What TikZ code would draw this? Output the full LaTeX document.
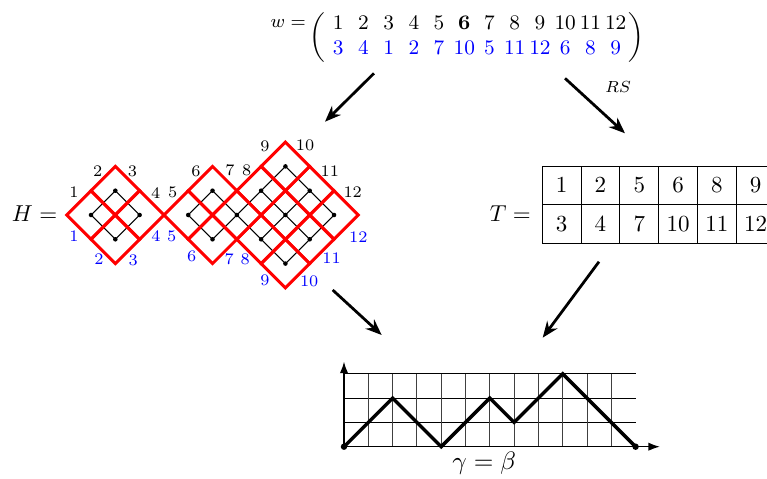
\documentclass[tikz,border=0pt]{standalone}
\usepackage{amsmath}
\usepackage{array}
\usepackage{xcolor}
\usetikzlibrary{arrows.meta,positioning}

\newcommand{\blu}[1]{\textcolor{blue}{#1}}

\begin{document}
\begin{tikzpicture}[x=0.371cm,y=0.371cm,
        heapred/.style={red,line width=1.3pt},
        dual/.style={black,line width=0.45pt},
        toplab/.style={font=\scriptsize,inner sep=0pt},
        botlab/.style={font=\scriptsize,inner sep=0pt,text=blue},
        maparrow/.style={line width=1.2pt,-{Stealth[length=7pt,width=5.5pt]}},
        axis/.style={line width=0.6pt,-{Latex[length=5pt,width=3.6pt]}}]
    \useasboundingbox (-14.156,-1.329) rectangle (17.407,18.383);

    % the word w
    \node (wmat) at (5.47,16.86) {\small\setlength{\arraycolsep}{0pt}\renewcommand{\arraystretch}{0.97}%
        $\left(\begin{array}{*{12}{w{c}{10.96pt}}}
        1&2&3&4&5&\mathbf{6}&7&8&9&10&11&12\\
        \blu{3}&\blu{4}&\blu{1}&\blu{2}&\blu{7}&\blu{10}&\blu{5}&\blu{11}&\blu{12}&\blu{6}&\blu{8}&\blu{9}
        \end{array}\right)$};
    \node[anchor=base east,inner sep=0pt,font=\footnotesize] (wlab) at (-1.55,17.24) {$w=$};

    % the heap H
    \node[anchor=base east,inner sep=0pt] (hlab) at (-11.78,9.26) {$H=$};
    \begin{scope}[cm={1,1,1,-1,(-11.41,9.535)}]
        \draw[dual] (0.5,0.5) rectangle (1.5,1.5);
        \foreach \cu/\cv in {0/0,1/0,0/1,1/1} {
            \fill (\cu+0.5,\cv+0.5) circle (0.7pt);
            \draw[heapred] (\cu,\cv) rectangle +(1,1);
        }
    \end{scope}
    \begin{scope}[cm={1,1,1,-1,(-7.41,9.535)}]
        \draw[dual] (0.5,0.5) -- (1.5,0.5) (0.5,1.5) -- (3.5,1.5) (1.5,2.5) -- (3.5,2.5) (1.5,3.5) -- (3.5,3.5)
            (0.5,0.5) -- (0.5,1.5) (1.5,0.5) -- (1.5,3.5) (2.5,1.5) -- (2.5,3.5) (3.5,1.5) -- (3.5,3.5);
        \foreach \cu/\cv in {0/0,1/0,0/1,1/1,2/1,3/1,1/2,2/2,3/2,1/3,2/3,3/3} {
            \fill (\cu+0.5,\cv+0.5) circle (0.7pt);
            \draw[heapred] (\cu,\cv) rectangle +(1,1);
        }
    \end{scope}
    % labels on the upper and lower boundary
    \foreach \lx/\ly/\lab in {-11.11/10.49/1,-10.14/11.32/2,-8.71/11.32/3,-7.75/10.44/4,
            -7.05/10.45/5,-6.09/11.32/6,-4.69/11.36/7,-4.00/11.36/8,-3.25/12.35/9,
            -1.60/12.42/10,-0.58/11.32/11,0.36/10.49/12}
        \node[toplab] (ht\lab) at (\lx,\ly) {\lab};
    \foreach \lx/\ly/\lab in {-11.11/8.67/1,-10.08/7.71/2,-8.67/7.68/3,-7.74/8.67/4,
            -7.09/8.67/5,-6.27/7.85/6,-4.72/7.71/7,-4.07/7.71/8,-3.25/6.86/9,
            -1.43/6.79/10,-0.51/7.75/11,0.59/8.62/12}
        \node[botlab] (hb\lab) at (\lx,\ly) {\lab};

    % the tableau T
    \node[anchor=base east,inner sep=0pt] (tlab) at (7.71,9.26) {$T=$};
    \begin{scope}[shift={(8.16,8.37)},x=0.5925cm,y=0.5877cm]
        \foreach \i in {0,...,6}
            \draw[line width=0.5pt] (\i,0) -- (\i,2);
        \foreach \j in {0,1,2}
            \draw[line width=0.5pt] (0,\j) -- (6,\j);
        \foreach \lab [count=\i] in {1,2,5,6,8,9}
            \node (ta\i) at (\i-0.5,1.5) {$\lab$};
        \foreach \lab [count=\i] in {3,4,7,10,11,12}
            \node (tb\i) at (\i-0.5,0.5) {$\lab$};
    \end{scope}

    % maps
    \coordinate (wl) at (1.235,15.366);
    \coordinate (hin) at (-0.782,13.374);
    \coordinate (wr) at (9.095,15.160);
    \coordinate (tin) at (11.564,12.897);
    \coordinate (hout) at (-0.465,6.449);
    \coordinate (pl) at (1.551,4.597);
    \coordinate (tout) at (10.494,7.613);
    \coordinate (pr) at (8.177,4.486);
    \draw[maparrow] (wl) -- (hin);
    \draw[maparrow] (wr) -- (tin);
    \draw[maparrow] (hout) -- (pl);
    \draw[maparrow] (tout) -- (pr);
    \node[font=\scriptsize] (rs) at (11.28,14.8) {$RS$};

    % the path gamma
    \foreach \y in {1,2,3}
        \draw[line width=0.4pt] (0,\y) -- (12,\y);
    \foreach \x in {1,...,11}
        \draw[line width=0.4pt,black!75] (\x,0) -- (\x,3);
    \draw[axis] (0,0) -- (13,0);
    \draw[axis] (0,0) -- (0,3.5);
    \draw[line width=1.5pt] (0,0) -- (2,2) -- (4,0) -- (6,2) -- (7,1) -- (9,3) -- (12,0);
    \fill (0,0) circle (1.4pt) (12,0) circle (1.4pt);
    \node[anchor=base,font=\fontsize{11}{13}\selectfont] (gb) at (5.77,-0.92) {$\gamma=\beta$};
\end{tikzpicture}
\end{document}
